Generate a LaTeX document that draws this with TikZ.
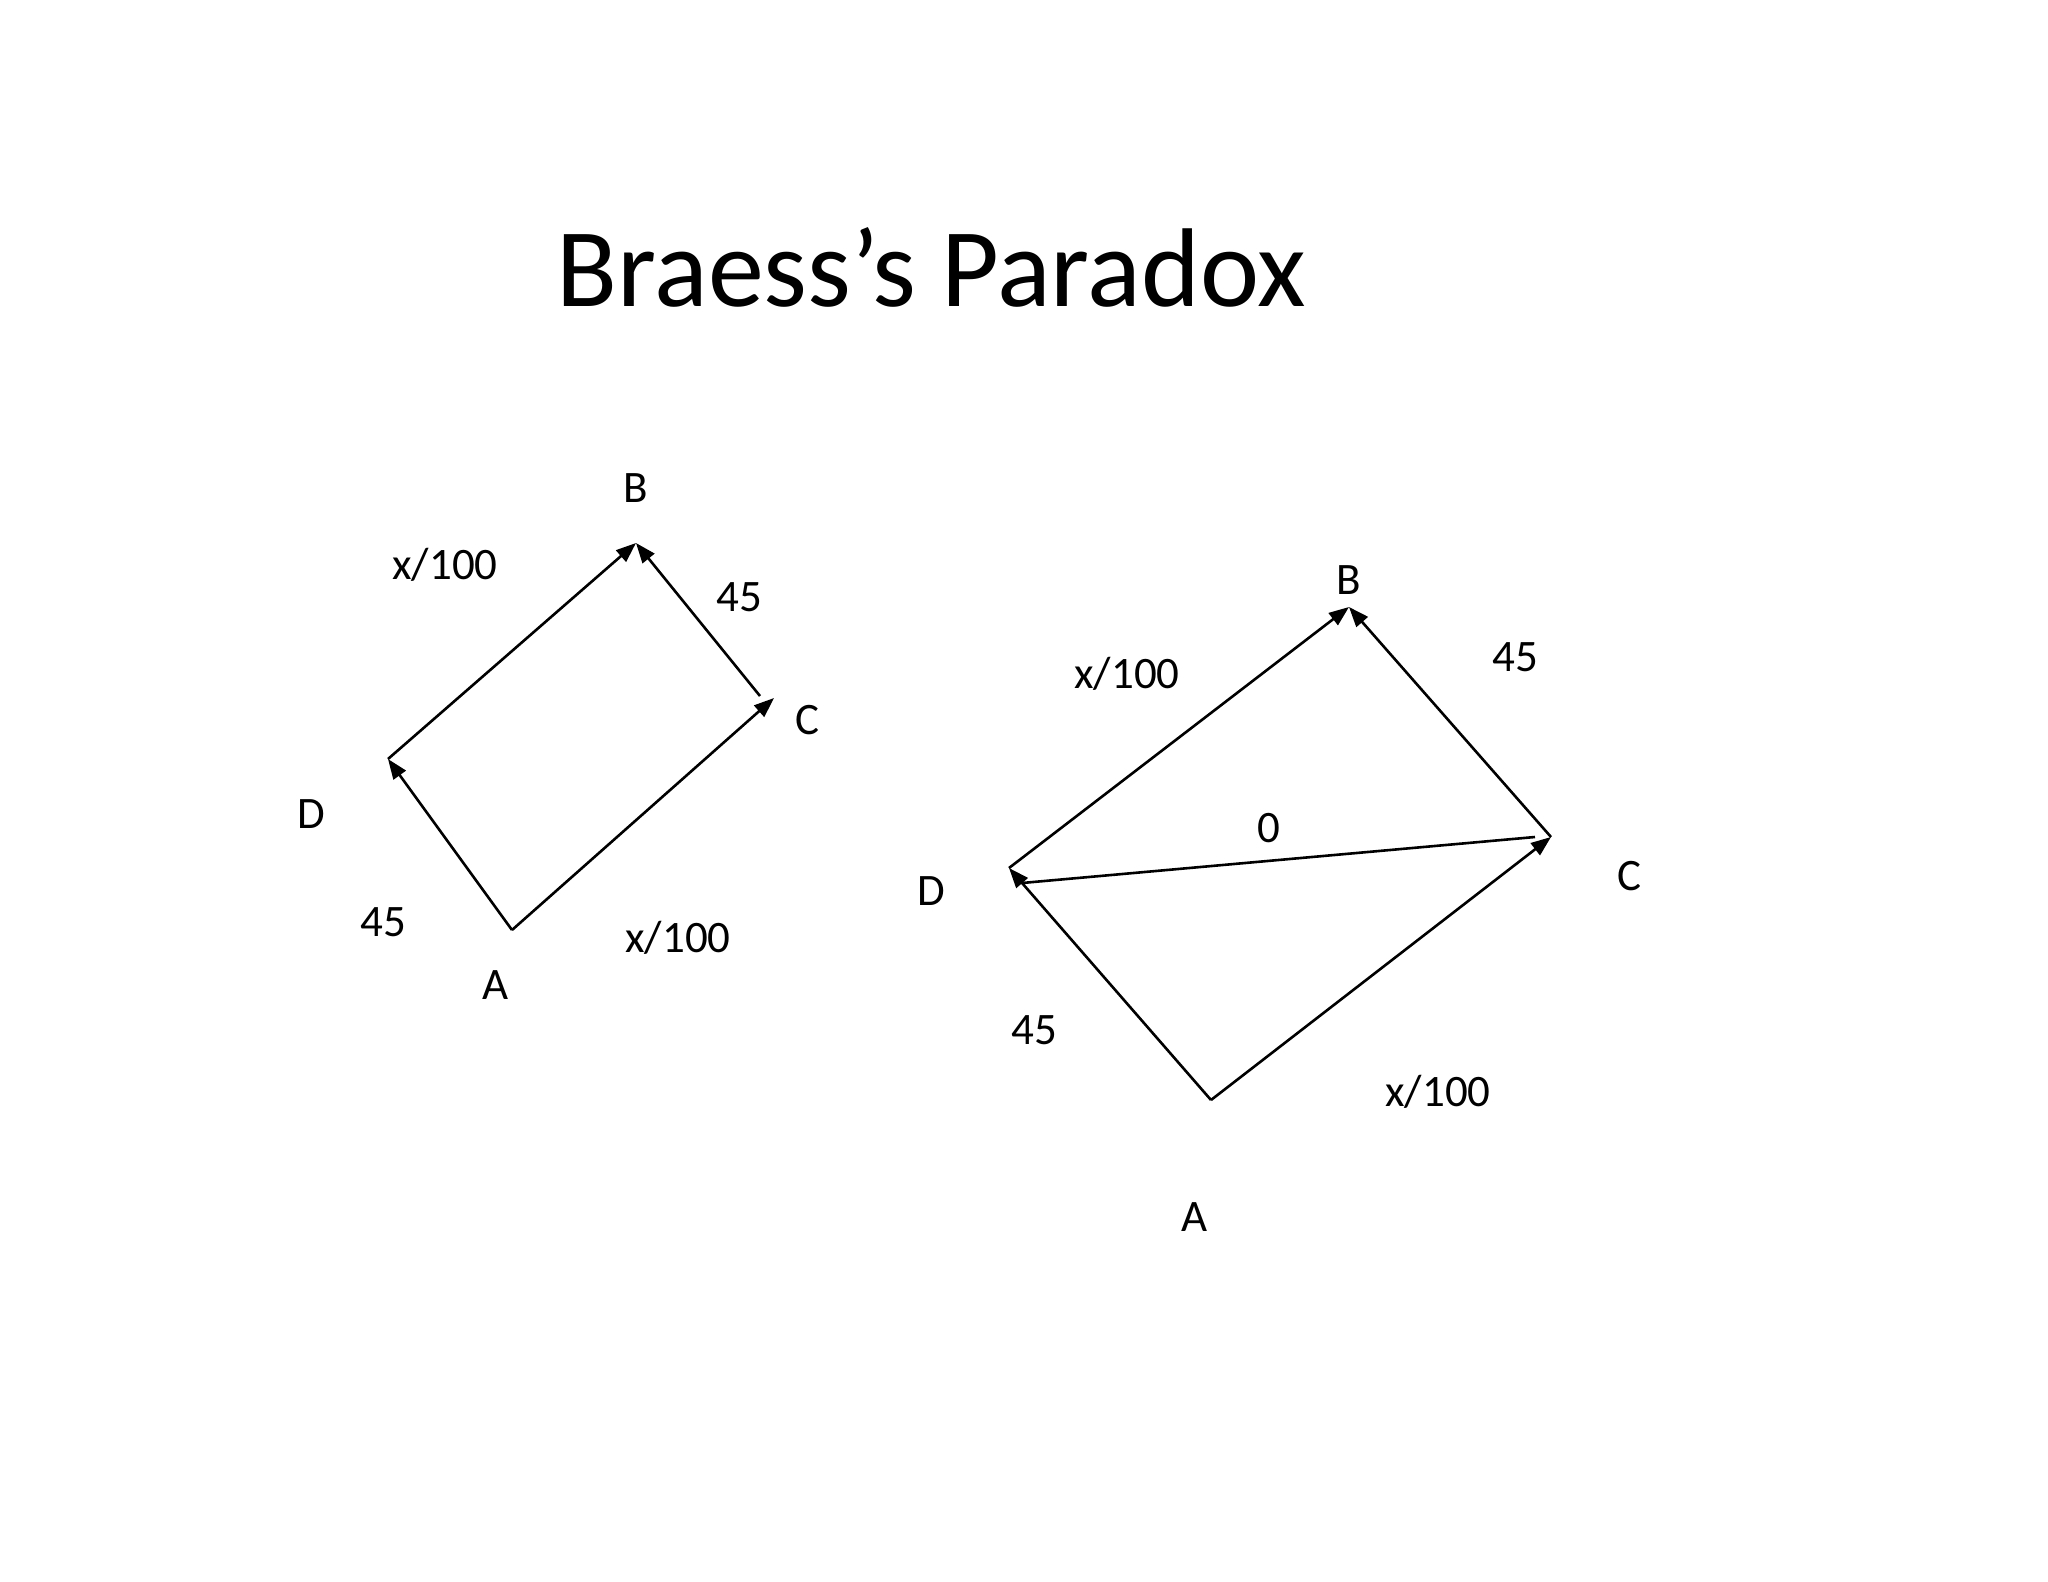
\documentclass[tikz,border=0pt]{standalone}
\usepackage{fontspec}
\setmainfont{Carlito}
\usetikzlibrary{arrows.meta}
\tikzset{
  edge/.style={line width=2.6pt, -{Triangle[length=20pt,width=15pt]}},
  plainedge/.style={line width=2.6pt},
  lbl/.style={anchor=base, inner sep=0pt, font=\fontsize{45}{54}\selectfont},
  ttl/.style={anchor=base, inner sep=0pt, font=\fontsize{112}{134}\selectfont}
}
\begin{document}
\begin{tikzpicture}[x=1pt,y=-1pt]
\path[use as bounding box, fill=white] (0,0) rectangle (2048,1582);
\node[ttl] (title) at (931,306) {Braess’s Paradox};

% left diagram
\coordinate (A1) at (512,930);
\coordinate (D1) at (388,759);
\coordinate (B1) at (636,543);
\coordinate (C1) at (774,698);
\coordinate (C1s) at (760,696);
\draw[edge] (A1) -- (D1);
\draw[edge] (D1) -- (B1);
\draw[edge] (A1) -- (C1);
\draw[edge] (C1s) -- (B1);
\node[lbl] (lB1) at (636,502) {B};
\node[lbl] (lDB1) at (445,579) {x/100};
\node[lbl] (lCB1) at (739,611) {45};
\node[lbl] (lC1) at (807,734) {C};
\node[lbl] (lD1) at (311,828) {D};
\node[lbl] (lAD1) at (383,936) {45};
\node[lbl] (lAC1) at (678,952) {x/100};
\node[lbl] (lA1) at (496,999) {A};

% right diagram
\coordinate (A2) at (1211,1100);
\coordinate (D2) at (1009,868);
\coordinate (B2) at (1349,607);
\coordinate (C2) at (1551,837);
\coordinate (Z1) at (1022,883);
\coordinate (Z2) at (1535,837);
\draw[edge] (A2) -- (D2);
\draw[edge] (D2) -- (B2);
\draw[edge] (A2) -- (C2);
\draw[edge] (C2) -- (B2);
\draw[plainedge] (Z1) -- (Z2);
\node[lbl] (lB2) at (1349,594) {B};
\node[lbl] (lDB2) at (1127,688) {x/100};
\node[lbl] (lCB2) at (1515,671) {45};
\node[lbl] (lZ2) at (1269,842) {0};
\node[lbl] (lD2) at (931,905) {D};
\node[lbl] (lC2) at (1629,890) {C};
\node[lbl] (lAD2) at (1034,1044) {45};
\node[lbl] (lAC2) at (1438,1106) {x/100};
\node[lbl] (lA2) at (1195,1231) {A};
\end{tikzpicture}
\end{document}
